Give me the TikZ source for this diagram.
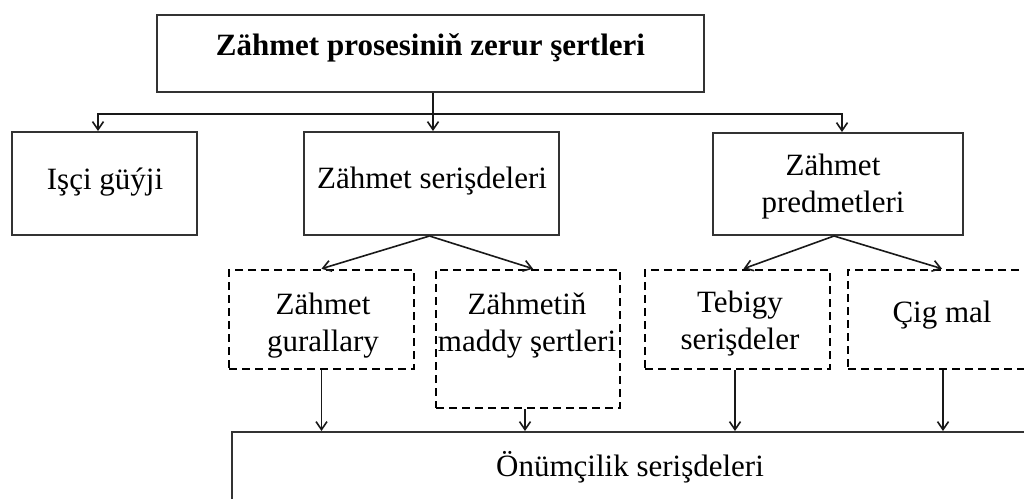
\documentclass[tikz,border=0pt]{standalone}
\usepackage{fontspec}
\setmainfont{Liberation Serif}
\usetikzlibrary{arrows.meta}
\newcommand{\twol}[2]{\begin{tabular}[t]{@{}c@{}}#1\\#2\end{tabular}}
\tikzset{
  solidbox/.style={draw=black!80, line width=2pt, rectangle, inner sep=0pt},
  dashbox/.style={draw=black, line width=2.6pt, dash pattern=on 8pt off 5pt, rectangle, inner sep=0pt},
  lbl/.style={anchor=base, inner sep=0pt, font=\fontsize{31}{37}\selectfont},
  arr/.style={draw=black!90, line width=1.6pt, -{Straight Barb[length=8pt,width=11pt]}},
  conn/.style={draw=black!90, line width=1.6pt}
}
\begin{document}
\begin{tikzpicture}[x=1pt,y=-1pt]
\useasboundingbox (0,0) rectangle (1024,498);
\clip (0,0) rectangle (1024,498);
\fill[white] (0,0) rectangle (1024,498);

% boxes
\node[solidbox, minimum width=547pt, minimum height=77pt] (top) at (430.5,53.5) {};
\node[solidbox, minimum width=185pt, minimum height=103pt] (isci) at (104.5,183.5) {};
\node[solidbox, minimum width=255pt, minimum height=103pt] (ser) at (431.5,183.5) {};
\node[solidbox, minimum width=250pt, minimum height=102pt] (pred) at (838,184) {};
\node[dashbox, minimum width=185pt, minimum height=99pt] (gur) at (321.5,319.5) {};
\node[dashbox, minimum width=184pt, minimum height=138pt] (mad) at (528,339) {};
\node[dashbox, minimum width=185pt, minimum height=99pt] (teb) at (737.5,319.5) {};
\node[dashbox, minimum width=192pt, minimum height=99pt] (cig) at (944,319.5) {};
\node[solidbox, minimum width=808pt, minimum height=78pt] (prod) at (636,471) {};

% texts
\node[lbl, font=\fontsize{31}{37}\selectfont\bfseries] (ttop) at (430.5,55) {Zähmet prosesiniň zerur şertleri};
\node[lbl] (tisci) at (105,189) {Işçi güýji};
\node[lbl] (tser) at (432,188) {Zähmet serişdeleri};
\node[lbl] (tpred) at (833,175) {\twol{Zähmet}{predmetleri}};
\node[lbl] (tgur) at (323,314) {\twol{Zähmet}{gurallary}};
\node[lbl] (tmad) at (527,314) {\twol{Zähmetiň}{maddy şertleri}};
\node[lbl] (tteb) at (740,312) {\twol{Tebigy}{serişdeler}};
\node[lbl] (tcig) at (942,322) {Çig mal};
\node[lbl] (tprod) at (630,476) {Önümçilik serişdeleri};

% connectors
\coordinate (j) at (433,114);
\draw[conn] (j |- top.south) -- (j);
\draw[arr] (j) -| ([xshift=-6.5pt]isci.north);
\draw[arr] (j) -- (j |- ser.north);
\draw[arr] (j) -| ([xshift=4pt]pred.north);

\draw[arr] ([xshift=-2pt]ser.south) -- (gur.north);
\draw[arr] ([xshift=-2pt]ser.south) -- ([xshift=5pt]mad.north);
\draw[arr] ([xshift=-4pt]pred.south) -- ([xshift=6pt]teb.north);
\draw[arr] ([xshift=-4pt]pred.south) -- ([xshift=-2pt]cig.north);

\draw[arr] (gur.south) -- (gur.south |- prod.north);
\draw[arr] ([xshift=-3pt]mad.south) -- ([xshift=-3pt]mad.south |- prod.north);
\draw[arr] ([xshift=-2.5pt]teb.south) -- ([xshift=-2.5pt]teb.south |- prod.north);
\draw[arr] ([xshift=-1pt]cig.south) -- ([xshift=-1pt]cig.south |- prod.north);
\end{tikzpicture}
\end{document}
